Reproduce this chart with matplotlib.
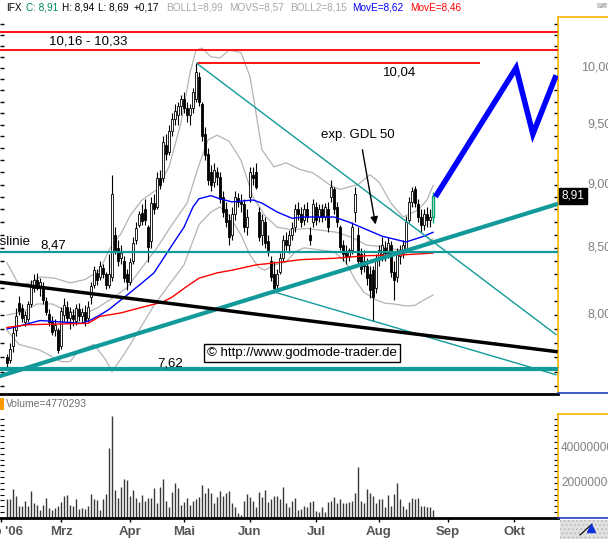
import matplotlib
matplotlib.use("Agg")
import matplotlib.pyplot as plt
import matplotlib.transforms as mtransforms
from matplotlib.patches import Rectangle
from matplotlib.lines import Line2D
import numpy as np

plt.rcParams['font.family'] = ['Liberation Sans', 'DejaVu Sans']

# daily candles (trading-day index 0 = early Feb 2006, last = 25 Aug 2006)
opens = [7.70, 7.68, 7.78, 7.89, 8.09, 8.05, 7.95, 7.97, 8.08, 8.20,
         8.26, 8.20, 8.21, 8.10, 8.01, 7.95, 7.89, 7.89, 7.78, 8.00,
         8.06, 7.98, 8.00, 7.96, 8.04, 7.99, 8.02, 7.98, 8.13, 8.22,
         8.31, 8.28, 8.35, 8.30, 8.22, 8.28, 8.60, 8.50, 8.42, 8.40,
         8.30, 8.24, 8.40, 8.56, 8.68, 8.77, 8.80, 8.66, 8.55, 8.85,
         8.82, 9.05, 9.05, 9.33, 9.27, 9.45, 9.55, 9.58, 9.66, 9.72,
         9.64, 9.58, 9.64, 9.72, 9.92, 9.68, 9.42, 9.25, 9.10, 9.02,
         9.10, 9.06, 8.90, 8.80, 8.72, 8.60, 8.76, 8.89, 8.86, 8.84,
         8.66, 8.90, 9.08, 9.10, 8.78, 8.60, 8.70, 8.55, 8.40, 8.30,
         8.22, 8.32, 8.42, 8.56, 8.52, 8.60, 8.66, 8.80, 8.76, 8.72,
         8.80, 8.60, 8.70, 8.82, 8.74, 8.80, 8.74, 8.80, 8.90, 8.96,
         8.82, 8.66, 8.52, 8.46, 8.44, 8.48, 8.78, 8.60, 8.45, 8.40,
         8.36, 8.30, 8.33, 8.20, 8.42, 8.45, 8.50, 8.46, 8.52, 8.32,
         8.28, 8.44, 8.46, 8.48, 8.72, 8.86, 8.96, 8.84, 8.74, 8.68,
         8.76, 8.72, 8.74]
highs = [7.72, 7.80, 7.92, 8.05, 8.14, 8.08, 8.03, 8.10, 8.26, 8.30,
         8.31, 8.27, 8.24, 8.13, 8.04, 7.99, 7.97, 7.91, 8.06, 8.12,
         8.10, 8.06, 8.04, 8.08, 8.09, 8.05, 8.07, 8.10, 8.24, 8.36,
         8.34, 8.40, 8.38, 8.32, 8.45, 9.08, 8.66, 8.56, 8.52, 8.44,
         8.34, 8.42, 8.58, 8.70, 8.79, 8.84, 8.88, 8.68, 8.90, 8.92,
         9.10, 9.12, 9.40, 9.42, 9.50, 9.60, 9.68, 9.70, 9.76, 9.78,
         9.70, 9.68, 9.82, 10.04, 9.96, 9.70, 9.48, 9.30, 9.16, 9.18,
         9.14, 9.10, 8.95, 8.86, 8.76, 8.82, 8.95, 8.93, 8.92, 8.88,
         8.80, 9.14, 9.14, 9.18, 8.82, 8.76, 8.74, 8.60, 8.44, 8.40,
         8.34, 8.46, 8.60, 8.62, 8.64, 8.70, 8.84, 8.86, 8.82, 8.84,
         8.86, 8.66, 8.88, 8.86, 8.84, 8.84, 8.85, 8.86, 9.04, 8.98,
         8.86, 8.68, 8.56, 8.52, 8.50, 8.70, 8.98, 8.66, 8.50, 8.48,
         8.42, 8.36, 8.36, 8.45, 8.52, 8.58, 8.55, 8.58, 8.55, 8.40,
         8.50, 8.52, 8.56, 8.75, 8.90, 8.98, 8.99, 8.88, 8.80, 8.80,
         8.82, 8.80, 8.94]
lows = [7.62, 7.66, 7.74, 7.85, 8.00, 7.95, 7.92, 7.95, 8.06, 8.17,
        8.18, 8.14, 8.08, 8.00, 7.92, 7.86, 7.85, 7.73, 7.76, 7.96,
        7.95, 7.90, 7.92, 7.93, 7.96, 7.94, 7.92, 7.95, 8.08, 8.20,
        8.22, 8.26, 8.27, 8.19, 8.20, 8.25, 8.45, 8.36, 8.38, 8.24,
        8.18, 8.22, 8.38, 8.53, 8.66, 8.68, 8.68, 8.39, 8.50, 8.76,
        8.80, 8.96, 9.02, 9.20, 9.24, 9.40, 9.50, 9.50, 9.58, 9.60,
        9.52, 9.50, 9.60, 9.70, 9.66, 9.36, 9.20, 9.00, 8.95, 8.98,
        9.00, 8.85, 8.74, 8.66, 8.52, 8.56, 8.72, 8.82, 8.78, 8.62,
        8.60, 8.86, 9.00, 8.96, 8.55, 8.52, 8.50, 8.44, 8.25, 8.16,
        8.18, 8.30, 8.40, 8.48, 8.46, 8.56, 8.62, 8.72, 8.66, 8.68,
        8.70, 8.52, 8.66, 8.68, 8.70, 8.70, 8.72, 8.62, 8.86, 8.76,
        8.66, 8.48, 8.40, 8.38, 8.40, 8.45, 8.70, 8.36, 8.30, 8.32,
        8.22, 8.12, 7.96, 8.16, 8.36, 8.40, 8.40, 8.42, 8.28, 8.11,
        8.24, 8.38, 8.42, 8.46, 8.70, 8.82, 8.82, 8.70, 8.62, 8.64,
        8.66, 8.66, 8.69]
closes = [7.66, 7.76, 7.87, 7.99, 8.03, 7.98, 8.00, 8.08, 8.22, 8.26,
          8.20, 8.24, 8.11, 8.02, 7.95, 7.88, 7.93, 7.75, 8.03, 8.07,
          7.98, 8.02, 7.97, 8.05, 7.99, 8.02, 7.96, 8.06, 8.21, 8.33,
          8.26, 8.36, 8.30, 8.22, 8.30, 8.92, 8.48, 8.40, 8.46, 8.27,
          8.24, 8.39, 8.54, 8.65, 8.76, 8.71, 8.72, 8.51, 8.85, 8.80,
          9.05, 9.00, 9.35, 9.25, 9.45, 9.55, 9.62, 9.66, 9.72, 9.64,
          9.58, 9.64, 9.78, 9.96, 9.70, 9.40, 9.24, 9.04, 9.00, 9.12,
          9.06, 8.88, 8.78, 8.70, 8.58, 8.76, 8.90, 8.86, 8.84, 8.66,
          8.74, 9.10, 9.05, 8.98, 8.58, 8.72, 8.54, 8.48, 8.28, 8.20,
          8.30, 8.42, 8.56, 8.52, 8.60, 8.65, 8.80, 8.76, 8.70, 8.80,
          8.74, 8.56, 8.84, 8.72, 8.80, 8.74, 8.82, 8.66, 8.98, 8.80,
          8.70, 8.51, 8.45, 8.43, 8.48, 8.66, 8.92, 8.40, 8.34, 8.36,
          8.27, 8.18, 8.13, 8.42, 8.48, 8.52, 8.46, 8.54, 8.32, 8.26,
          8.45, 8.48, 8.52, 8.70, 8.86, 8.95, 8.85, 8.74, 8.68, 8.76,
          8.72, 8.74, 8.91]
volume_m = [10.6, 10.6, 16.3, 12.5, 7.1, 7.1, 9.6, 7.1, 15.2, 8.7,
            7.7, 4.8, 7.7, 11.7, 5.8, 4.8, 5.8, 6.7, 9.0, 12.5,
            13.3, 7.7, 7.1, 10.6, 5.2, 5.6, 5.2, 6.7, 13.5, 10.6,
            10.2, 4.4, 11.0, 13.5, 39.8, 58.5, 16.0, 11.7, 17.7, 22.1,
            21.5, 12.5, 15.8, 11.5, 9.0, 13.1, 9.6, 11.7, 11.3, 17.1,
            8.7, 17.5, 22.1, 9.6, 6.2, 14.8, 20.0, 17.1, 7.7, 9.4,
            11.2, 7.7, 9.6, 10.6, 11.9, 18.8, 14.2, 17.1, 14.0, 8.7,
            11.9, 15.2, 12.5, 14.2, 15.4, 8.7, 6.0, 2.9, 1.9, 9.6,
            13.7, 11.9, 9.8, 6.3, 14.8, 12.1, 16.0, 9.4, 10.6, 12.5,
            12.5, 10.6, 17.7, 8.7, 6.2, 9.6, 11.2, 4.4, 5.4, 6.7,
            6.0, 9.0, 9.6, 4.2, 3.3, 6.3, 3.3, 9.4, 9.6, 12.1,
            8.8, 10.8, 8.7, 8.7, 9.2, 9.6, 14.4, 29.2, 9.6, 8.7,
            16.5, 14.4, 12.5, 8.7, 10.6, 11.0, 6.0, 13.3, 7.1, 13.5,
            20.2, 10.6, 7.1, 5.2, 9.0, 11.5, 10.6, 11.5, 6.7, 7.1,
            6.0, 6.0, 4.77]

# indicators (index, price)
ema50_idx = [0, 4, 11, 18, 25, 28, 31, 34, 38, 40, 45, 49, 54, 59, 62, 64, 68, 71, 75,
             82, 85, 90, 95, 99, 109, 114, 120, 125, 133, 139, 142]
ema50_val = [7.90, 7.92, 7.96, 7.95, 7.94, 7.965, 8.00, 8.04, 8.11, 8.145, 8.235, 8.31, 8.485,
             8.66, 8.82, 8.885, 8.91, 8.885, 8.86, 8.875, 8.85, 8.78, 8.73, 8.74, 8.74, 8.70,
             8.64, 8.59, 8.545, 8.59, 8.62]
ema200_idx = [0, 7, 27, 31, 38, 44, 52, 55, 60, 64, 70, 75, 83, 91, 98, 109, 120, 131, 142]
ema200_val = [7.91, 7.93, 7.94, 7.99, 8.015, 8.05, 8.095, 8.13, 8.21, 8.27, 8.31, 8.33, 8.37,
              8.39, 8.41, 8.42, 8.44, 8.445, 8.46]
boll_up_idx = [0, 4, 8, 11, 16, 21, 26, 31, 34, 38, 41, 45, 50, 54, 58, 61, 63, 65, 68, 71,
               74, 78, 81, 83, 85, 89, 93, 98, 102, 108, 111, 117, 121, 124, 128, 132, 137, 140, 142]
boll_up_val = [8.385, 8.22, 8.235, 8.28, 8.27, 8.235, 8.26, 8.33, 8.485, 8.61, 8.75, 8.875,
               8.96, 9.145, 9.515, 9.955, 10.16, 10.18, 10.10, 10.09, 10.16, 10.14, 9.92, 9.60,
               9.286, 9.145, 9.178, 9.12, 9.095, 8.99, 8.96, 9.00, 9.08, 9.02, 8.85, 8.74,
               8.795, 8.875, 8.99]
boll_mid_idx = [0, 5, 10, 15, 20, 25, 30, 35, 40, 45, 50, 55, 60, 64, 67, 70, 74, 78, 82,
                86, 90, 95, 100, 110, 115, 120, 125, 130, 135, 139, 142]
boll_mid_val = [8.00, 8.02, 8.08, 8.08, 8.03, 8.00, 8.05, 8.12, 8.20, 8.35, 8.50, 8.68, 8.85,
                9.16, 9.37, 9.41, 9.36, 9.20, 8.90, 8.75, 8.66, 8.64, 8.65, 8.62, 8.58, 8.52,
                8.51, 8.485, 8.49, 8.53, 8.57]
boll_low_idx = [0, 4, 11, 18, 21, 24, 29, 33, 35, 39, 44, 49, 54, 59, 64, 68, 71, 74, 78,
                81, 84, 86, 89, 93, 96, 99, 104, 109, 113, 116, 119, 123, 126, 129, 133, 136, 139, 142]
boll_low_val = [7.89, 7.79, 7.75, 7.67, 7.67, 7.75, 7.79, 7.68, 7.60, 7.72, 7.89, 8.07, 8.22,
                8.37, 8.68, 8.78, 8.82, 8.75, 8.60, 8.445, 8.35, 8.33, 8.37, 8.39, 8.47, 8.50,
                8.485, 8.47, 8.39, 8.26, 8.165, 8.11, 8.085, 8.08, 8.065, 8.07, 8.11, 8.145]

# drawn levels and trend lines (index, price)
resist_zone = [10.16, 10.33]
high_level = 10.04
high_level_span = [63.3, 157.7]
support_level = 8.47
low_level = 7.62
peak_trend = ([63.3, 183.0], [10.04, 7.86])
lower_trend = ([88.7, 183.0], [8.17, 7.58])
uptrend = ([-2.4, 183.0], [7.57, 8.84])
downtrend = ([-2.4, 183.0], [8.24, 7.74])
projection = ([143.3, 169.7, 175.3, 182.7], [8.92, 10.0, 9.42, 9.91])

month_pos = [-2, 18, 41, 59, 81, 103, 124, 147, 169]
month_labels = ["Feb '06", 'Mrz', 'Apr', 'Mai', 'Jun', 'Jul', 'Aug', 'Sep', 'Okt']
price_labels = [8.0, 8.5, 9.0, 9.5, 10.0]

W, H = 608, 539
fig = plt.figure(figsize=(W / 100, H / 100), dpi=100)
fig.patch.set_facecolor('white')


def box(x0, y0, x1, y1):
    return [x0 / W, 1 - y1 / H, (x1 - x0) / W, (y1 - y0) / H]


ORANGE = '#f5b400'
TEAL = '#129a9a'

ax = fig.add_axes(box(0, 17, 558, 394))
axv = fig.add_axes(box(0, 414, 558, 518))

idx = np.arange(len(closes))
o = np.array(opens)
c = np.array(closes)

# candles
ax.vlines(idx[:-1], lows[:-1], highs[:-1], color='black', lw=0.8, zorder=2)
up = c >= o
body_lo = np.minimum(o, c)
body_h = np.maximum(np.abs(c - o), 0.004)
face = np.where(up, 'white', 'black').tolist()
ax.bar(idx[:-1], body_h[:-1], bottom=body_lo[:-1], width=0.75, color=face[:-1],
       edgecolor='black', linewidth=0.6, zorder=3)
ax.vlines(idx[-1], lows[-1], highs[-1], color='#00a070', lw=1.0, zorder=2)
ax.bar(idx[-1], body_h[-1], bottom=body_lo[-1], width=0.75, color='white',
       edgecolor='#00a070', linewidth=1.0, zorder=3)

# bollinger bands + moving averages
for xs, ys in [(boll_up_idx, boll_up_val), (boll_mid_idx, boll_mid_val), (boll_low_idx, boll_low_val)]:
    ax.plot(xs, ys, color='#b4b4b4', lw=0.9, zorder=1)
ax.plot(ema50_idx, ema50_val, color='#0000ff', lw=1.0, zorder=4)
ax.plot(ema200_idx, ema200_val, color='#ff0000', lw=1.0, zorder=4)

# levels and trend lines
for lvl in resist_zone:
    ax.axhline(lvl, color='#ff0000', lw=1.3, zorder=4)
ax.hlines(high_level, *high_level_span, color='#ff0000', lw=1.3, zorder=4)
ax.axhline(support_level, color=TEAL, lw=1.6, zorder=4)
ax.axhline(low_level, color=TEAL, lw=3.0, zorder=4)
ax.plot(*peak_trend, color=TEAL, lw=1.0, zorder=4)
ax.plot(*lower_trend, color=TEAL, lw=1.0, zorder=4)
ax.plot(*uptrend, color=TEAL, lw=3.0, zorder=5)
ax.plot(*downtrend, color='black', lw=2.5, zorder=5)
ax.plot(*projection, color='#0000ff', lw=4.0, solid_joinstyle='miter', zorder=6)

# annotations
ax.text(27, 10.245, '10,16 - 10,33', ha='center', va='center', fontsize=9.5, zorder=7)
ax.text(130.7, 9.955, '10,04', ha='center', va='center', fontsize=9.5, zorder=7)
ax.text(117, 9.41, 'exp. GDL 50', ha='center', va='center', fontsize=9.5, zorder=7)
ax.text(15.3, 8.52, '8,47', ha='center', va='center', fontsize=9.5, zorder=7)
ax.text(54.3, 7.66, '7,62', ha='center', va='center', fontsize=9.5, zorder=7)
ax.text(7.7, 8.545, 'Unterstützungslinie', ha='right', va='center', fontsize=9.5,
        zorder=7, clip_on=True)
ax.annotate('', xy=(123.0, 8.66), xytext=(118.3, 9.31),
            arrowprops=dict(arrowstyle='-|>', color='black', lw=1.0, mutation_scale=11),
            zorder=7)
ax.text(98.3, 7.73, '\u00a9 http://www.godmode-trader.de', ha='center', va='center',
        fontsize=9.5, zorder=8,
        bbox=dict(boxstyle='square,pad=0.25', fc='white', ec='black', lw=1.0))

ax.set_xlim(-7 / 3, 551 / 3)
ax.set_yscale('log')
ax.set_ylim(7.449, 10.47)
tick_prices = np.round(np.arange(7.5, 10.45, 0.1), 2)
ax.set_yticks(tick_prices)
ax.yaxis.set_minor_locator(plt.NullLocator())
ax.yaxis.set_major_formatter(plt.NullFormatter())
ax.yaxis.set_minor_formatter(plt.NullFormatter())
ax.tick_params(axis='y', direction='in', left=True, right=True, length=3, width=1,
               labelleft=False, labelright=False)
ax.set_xticks([])
for s in ['top', 'left']:
    ax.spines[s].set_visible(False)
ax.spines['right'].set_color(ORANGE)
ax.spines['right'].set_linewidth(1.2)
ax.spines['bottom'].set_color('black')
ax.spines['bottom'].set_linewidth(2)

tr = mtransforms.blended_transform_factory(ax.transAxes, ax.transData)
for p in price_labels:
    ax.text(612 / 558, p, f'{p:.2f}'.replace('.', ','), transform=tr, ha='right',
            va='center', color='#808080', fontsize=9, clip_on=False)
ax.text(561.5 / 558, closes[-1], f'{closes[-1]:.2f}'.replace('.', ','), transform=tr,
        ha='left', va='center', color='white', fontsize=8.5, clip_on=False,
        bbox=dict(boxstyle='square,pad=0.18', fc='black', ec='black'))

# volume panel
axv.vlines(idx, 0, np.array(volume_m) * 1e6, color='#383838', lw=1.0)
axv.set_xlim(-7 / 3, 551 / 3)
axv.set_ylim(0, 59.4e6)
axv.set_yticks(np.arange(0, 59e6, 20e6 / 6))
axv.yaxis.set_major_formatter(plt.NullFormatter())
axv.tick_params(axis='y', direction='in', left=True, right=True, length=3,
                labelleft=False, labelright=False)
axv.set_xticks(month_pos)
axv.set_xticklabels(month_labels, fontsize=9.5, fontweight='bold', color='#555555')
axv.tick_params(axis='x', direction='out', length=3, width=1, pad=3)
for s in ['top', 'left']:
    axv.spines[s].set_visible(False)
axv.spines['right'].set_color(ORANGE)
axv.spines['right'].set_linewidth(1.2)
axv.spines['bottom'].set_color('black')
axv.spines['bottom'].set_linewidth(2)
trv = mtransforms.blended_transform_factory(axv.transAxes, axv.transData)
for v in [40e6, 20e6]:
    axv.text(561 / 558, v, f'{int(v)}', transform=trv, ha='left', va='center',
             color='#808080', fontsize=8.5, clip_on=False)

# frame decorations of the right scale boxes
fig.add_artist(Line2D([558 / W, 1], [1 - 17 / H, 1 - 17 / H], color=ORANGE, lw=1.2))
fig.add_artist(Line2D([558 / W, 1], [1 - 414 / H, 1 - 414 / H], color=ORANGE, lw=1.2))
fig.add_artist(Line2D([558 / W, 1], [1 - 393 / H, 1 - 393 / H], color='#2040c0', lw=1.2))
fig.add_artist(Line2D([558 / W, 1], [1 - 518 / H, 1 - 518 / H], color='#2040c0', lw=1.2))
fig.add_artist(Rectangle((560 / W, 0), 48 / W, 19 / H, transform=fig.transFigure,
                         facecolor='#e2e2e2', edgecolor='#c0c0c0', hatch='....', lw=0))
fig.add_artist(Line2D([580 / W, 592 / W], [1 - 535 / H, 1 - 524 / H], color='black', lw=0.8))
fig.add_artist(Line2D([591 / W], [1 - 528 / H], marker='^', color='#1030e0', markersize=6))
fig.add_artist(Rectangle((597 / W, 1 - 8 / H), 10 / W, 5 / H, transform=fig.transFigure,
                         facecolor='#d0d0d0', edgecolor='#b0b0b0', hatch='////', lw=0))

# volume caption
fig.add_artist(Rectangle((0, 1 - 410 / H), 4 / W, 12 / H, transform=fig.transFigure,
                         facecolor='#ff9900', lw=0))
fig.text(6 / W, 1 - 404 / H, 'Volume=4770293', color='#707070', fontsize=7.5, va='center')

# header line
header = [(6, 'IFX', 'black'), (26, 'C: 8,91', '#008a5a'), (62, 'H: 8,94', 'black'),
          (98, 'L: 8,69', 'black'), (134, '+0,17', 'black'), (166, 'BOLL1=8,99', '#a8a8a8'),
          (229, 'MOVS=8,57', '#a8a8a8'), (290, 'BOLL2=8,15', '#a8a8a8'),
          (352, 'MovE=8,62', '#0000ff'), (410, 'MovE=8,46', '#ff0000')]
for x, t, col in header:
    fig.text(x / W, 1 - 8 / H, t, color=col, fontsize=7.2, va='center', ha='left')

fig.savefig('out.png', dpi=100)
